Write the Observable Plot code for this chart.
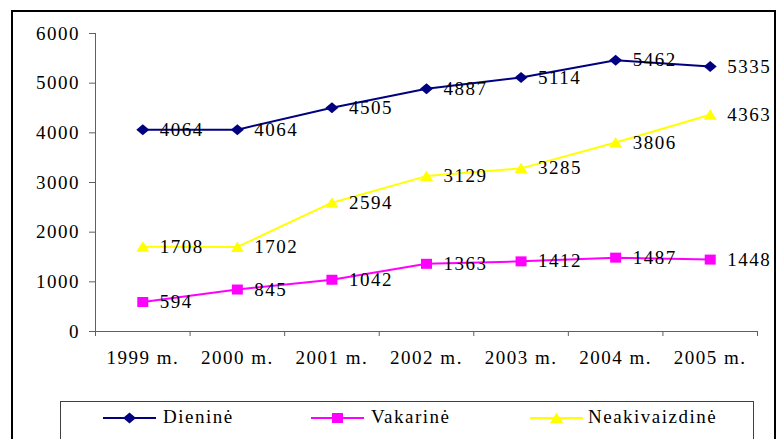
<!DOCTYPE html>
<html><head><meta charset="utf-8">
<script src="https://cdn.jsdelivr.net/npm/d3@7"></script>
<script src="https://cdn.jsdelivr.net/npm/@observablehq/plot@0.6"></script>
<style>
body{margin:0;background:#fff;}
#wrap{position:relative;width:777px;height:439px;overflow:hidden;background:#fff;font-family:"Liberation Serif","Times New Roman",serif;color:#000;}
#frame{position:absolute;left:11px;top:10px;width:761px;height:500px;border:2px solid #000;}
#chart{position:absolute;left:0;top:0;}
#legend{position:absolute;left:60px;top:401px;width:692px;height:60px;border:1px solid #404040;background:#fff;}
.sym{position:absolute;top:9px;}
.lab{position:absolute;top:5px;font-size:19px;letter-spacing:1.5px;line-height:20px;white-space:nowrap;}
</style></head>
<body>
<div id="wrap">
  <div id="frame"></div>
  <div id="chart"></div>
  <div id="legend"></div>
</div>
<script>
const years = ["1999 m.", "2000 m.", "2001 m.", "2002 m.", "2003 m.", "2004 m.", "2005 m."];
const seriesNames = ["Dieninė", "Vakarinė", "Neakivaizdinė"];
const seriesColors = ["#000080", "#FF00FF", "#FFFF00"];
const dienine = [4064, 4064, 4505, 4887, 5114, 5462, 5335];
const vakarine = [594, 845, 1042, 1363, 1412, 1487, 1448];
const neakivaizdine = [1708, 1702, 2594, 3129, 3285, 3806, 4363];
const yTicks = [0, 1000, 2000, 3000, 4000, 5000, 6000];

const seriesValues = [dienine, vakarine, neakivaizdine];
const rows = [];
seriesNames.forEach((s, k) => seriesValues[k].forEach((v, i) => rows.push({series: s, i, year: years[i], value: v})));
const bounds = d3.range(years.length + 1).map(i => i - 0.5);

const diamond = {draw(c){c.moveTo(0,-5.5);c.lineTo(6.5,0);c.lineTo(0,5.5);c.lineTo(-6.5,0);c.closePath();}};
const square = {draw(c){c.rect(-5.5,-5,11,10);}};
const triangle = {draw(c){c.moveTo(0,-5.5);c.lineTo(6.5,5);c.lineTo(-6.5,5);c.closePath();}};
const symbols = [diamond, square, triangle];

const plot = Plot.plot({
  width: 777, height: 395,
  marginLeft: 95, marginRight: 20, marginTop: 33, marginBottom: 64,
  x: {domain: [-0.5, years.length - 0.5], axis: null, label: null},
  y: {domain: [0, 6000], axis: null, label: null},
  color: {domain: seriesNames, range: seriesColors},
  style: {fontFamily: "'Liberation Serif', 'Times New Roman', serif", fontSize: "19px", letterSpacing: "1.5px", color: "#000", background: "transparent", overflow: "visible"},
  marks: [
    Plot.ruleX(bounds, {x: d => d, y1: 0, y2: 0, insetBottom: -5, stroke: "#606060"}),
    Plot.ruleX([-0.5], {stroke: "#606060"}),
    Plot.ruleY([0], {stroke: "#606060"}),
    Plot.axisY({ticks: yTicks, tickFormat: d => String(d), tickSize: 6, tickPadding: 9.5, stroke: "#606060", fill: "#000", label: null}),
    Plot.axisX({ticks: d3.range(years.length), tickFormat: i => years[i], tickSize: 0, tickPadding: 18.5, fill: "#000", label: null}),
    Plot.line(rows, {x: "i", y: "value", z: "series", stroke: "series", strokeWidth: 2}),
    ...seriesNames.map((s, k) => Plot.dot(rows.filter(d => d.series === s), {x: "i", y: "value", symbol: symbols[k], fill: seriesColors[k], stroke: "none", r: 5})),
    Plot.text(rows, {x: "i", y: "value", text: d => String(d.value), textAnchor: "start", dx: 17, fill: "#000"})
  ]
});
document.getElementById("chart").append(plot);

// legend
const legend = d3.select("#legend");
const legPos = [[42, 102], [250, 310], [469, 527]];
const symPaths = ["M0,-5.5L6.5,0L0,5.5L-6.5,0Z", "M-5.5,-5h11v10h-11Z", "M0,-5.5L6.5,5L-6.5,5Z"];
seriesNames.forEach((s, k) => {
  const svg = legend.append("svg").attr("class", "sym").attr("width", 54).attr("height", 14)
    .style("left", legPos[k][0] + "px");
  svg.append("line").attr("x1", 0).attr("x2", 53).attr("y1", 7).attr("y2", 7).attr("stroke", seriesColors[k]).attr("stroke-width", 2);
  svg.append("path").attr("d", symPaths[k]).attr("transform", "translate(26.5,7)").attr("fill", seriesColors[k]);
  legend.append("div").attr("class", "lab").style("left", legPos[k][1] + "px").text(s);
});
</script>
</body></html>
